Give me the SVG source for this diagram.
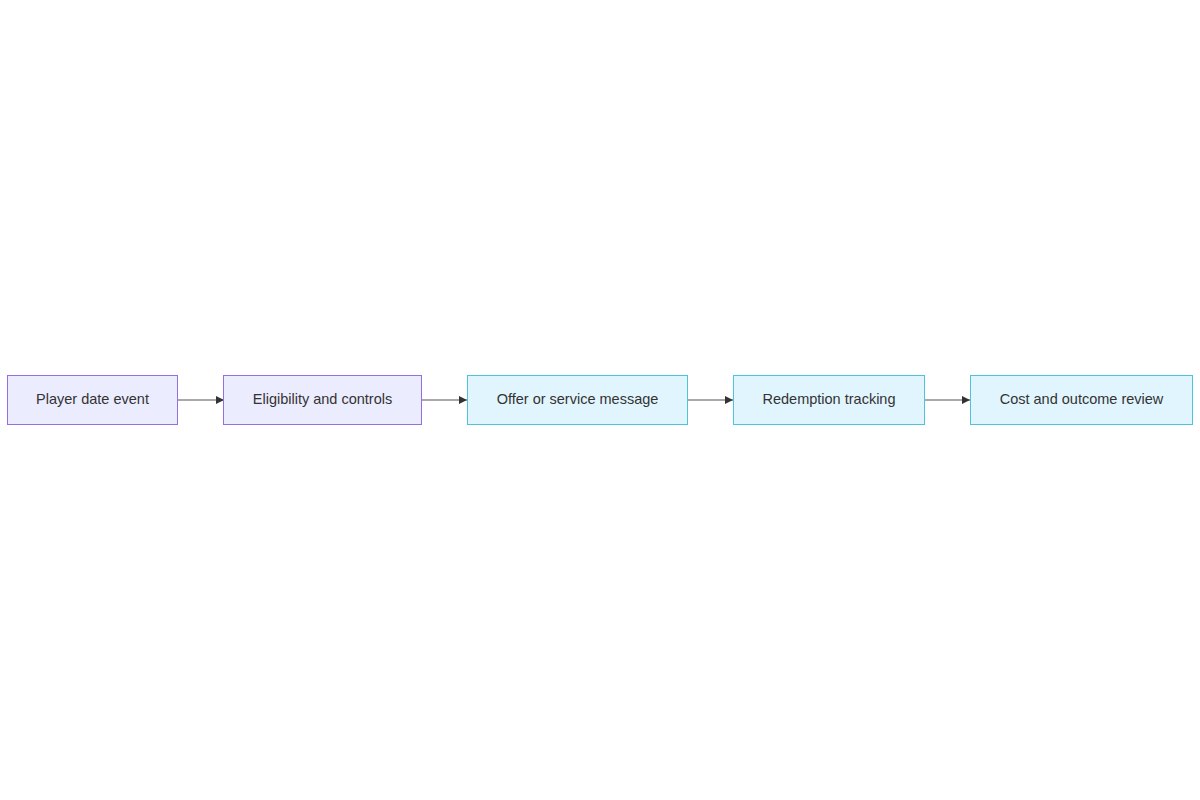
<svg xmlns="http://www.w3.org/2000/svg" width="1200" height="800" viewBox="0 0 1200 800">
<style>
.a{fill:#ECECFF;stroke:#9370DB;stroke-width:1}
.b{fill:#E1F5FE;stroke:#4FC3D7;stroke-width:1}
text{font-family:"Liberation Sans",Arial,sans-serif;font-size:14.5px;fill:#333;text-anchor:middle;dominant-baseline:central}
.e{stroke:#555;stroke-width:1.2;fill:none;marker-end:url(#m)}
</style>
<defs><marker id="m" viewBox="0 0 10 10" refX="10" refY="5" markerWidth="8" markerHeight="8" markerUnits="userSpaceOnUse" orient="auto"><path d="M0,0L10,5L0,10z" fill="#333"/></marker></defs>
<rect width="1200" height="800" fill="#fff"/>
<g id="connectors">
<path class="e" d="M178,400H224"/>
<path class="e" d="M422,400H467"/>
<path class="e" d="M688,400H733"/>
<path class="e" d="M925,400H970"/>
</g>
<g id="n1"><rect class="a" x="7.5" y="375.5" width="170" height="49"/><text x="92.5" y="399">Player date event</text></g>
<g id="n2"><rect class="a" x="223.5" y="375.5" width="198" height="49"/><text x="322.5" y="399">Eligibility and controls</text></g>
<g id="n3"><rect class="b" x="467.5" y="375.5" width="220" height="49"/><text x="577.5" y="399">Offer or service message</text></g>
<g id="n4"><rect class="b" x="733.5" y="375.5" width="191" height="49"/><text x="829" y="399">Redemption tracking</text></g>
<g id="n5"><rect class="b" x="970.5" y="375.5" width="222" height="49"/><text x="1081.5" y="399">Cost and outcome review</text></g>
</svg>
